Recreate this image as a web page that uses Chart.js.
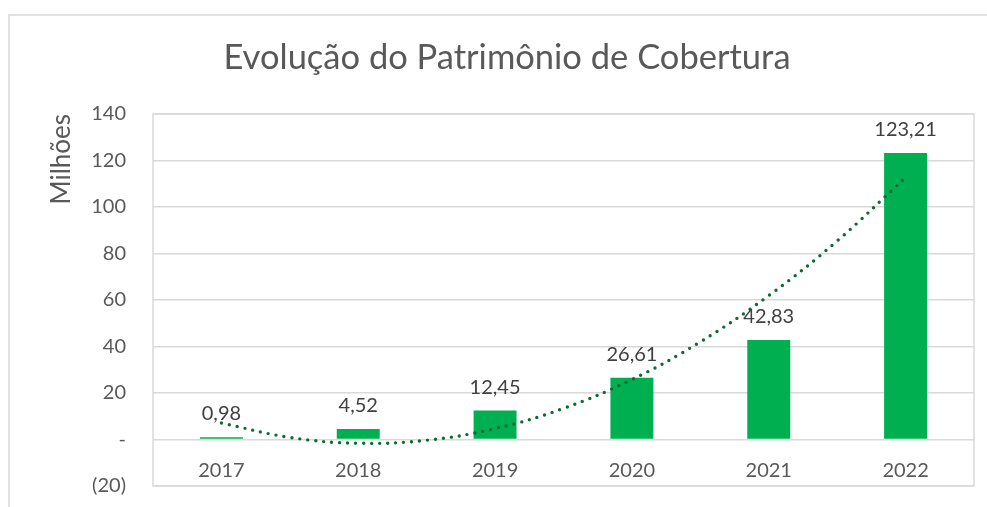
<!DOCTYPE html>
<html><head><meta charset="utf-8">
<script src="https://cdn.jsdelivr.net/npm/chart.js@4"></script>
<style>html,body{margin:0;padding:0;background:#fff;overflow:hidden}</style>
</head><body>
<canvas id="c" width="987" height="507"></canvas>
<script>
const categories = ['2017', '2018', '2019', '2020', '2021', '2022'];
const patrimonio = [0.98, 4.52, 12.45, 26.61, 42.83, 123.21];
// dotted trendline at half-category steps
const trendPositions = [0, 0.5, 1, 1.5, 2, 2.5, 3, 3.5, 4, 4.5, 5];
const trendValues = [7.1, 0.9, -1.6, -0.3, 4.7, 13.4, 25.8, 42.0, 61.9, 85.4, 112.8];
const yTickValues = [-20, 0, 20, 40, 60, 80, 100, 120, 140];
const yTickLabels = ['(20)', '-', '20', '40', '60', '80', '100', '120', '140'];
const titleText = 'Evolução do Patrimônio de Cobertura';
const yAxisTitle = 'Milhões';

const FONT = 'Lato';
const GREY = '#595959';
const GRID = '#d9d9d9';

const framePlugin = {
  id: 'frame',
  beforeDraw(chart) {
    const ctx = chart.ctx;
    ctx.save();
    ctx.fillStyle = '#fff';
    ctx.fillRect(0, 0, chart.width, chart.height);
    ctx.strokeStyle = GRID;
    ctx.lineWidth = 1.5;
    ctx.beginPath();
    ctx.moveTo(9, chart.height + 5);
    ctx.lineTo(9, 15);
    ctx.lineTo(chart.width + 5, 15);
    ctx.stroke();
    ctx.restore();
  },
  afterDraw(chart) {
    const a = chart.chartArea;
    const ctx = chart.ctx;
    ctx.save();
    ctx.strokeStyle = GRID;
    ctx.lineWidth = 1.5;
    ctx.strokeRect(a.left, a.top, a.right - a.left, a.bottom - a.top);
    ctx.restore();
  }
};

const labelPlugin = {
  id: 'barLabels',
  afterDatasetsDraw(chart) {
    const ctx = chart.ctx;
    const meta = chart.getDatasetMeta(0);
    ctx.save();
    ctx.font = '20px ' + FONT;
    ctx.fillStyle = '#404040';
    ctx.textAlign = 'center';
    ctx.textBaseline = 'alphabetic';
    meta.data.forEach((bar, i) => {
      const txt = patrimonio[i].toFixed(2).replace('.', ',');
      ctx.fillText(txt, bar.x, bar.y - 17);
    });
    ctx.restore();
  }
};

new Chart(document.getElementById('c'), {
  data: {
    labels: categories,
    datasets: [
      {
        type: 'bar',
        data: patrimonio,
        backgroundColor: '#00b050',
        barPercentage: 0.314,
        categoryPercentage: 1,
        grouped: false,
        order: 2,
        xAxisID: 'x',
        yAxisID: 'y'
      },
      {
        type: 'line',
        data: trendPositions.map((p, i) => ({ x: p, y: trendValues[i] })),
        borderColor: '#0d6a32',
        borderWidth: 3.4,
        borderDash: [0, 8],
        borderCapStyle: 'round',
        pointRadius: 0,
        tension: 0.4,
        fill: false,
        order: 1,
        xAxisID: 'x2',
        yAxisID: 'y'
      }
    ]
  },
  options: {
    responsive: false,
    animation: false,
    devicePixelRatio: 1,
    layout: { padding: { left: 40, right: 13, top: 0, bottom: 21 } },
    plugins: {
      legend: { display: false },
      tooltip: { enabled: false },
      title: {
        display: true,
        text: titleText,
        color: GREY,
        font: { family: FONT, size: 34.5, weight: 'normal' },
        padding: { top: 37, bottom: 35.6 }
      }
    },
    scales: {
      x: {
        type: 'category',
        position: { y: 0 },
        offset: true,
        grid: { display: false, drawTicks: false },
        border: { display: false },
        ticks: { color: GREY, font: { family: FONT, size: 20 }, padding: 19 }
      },
      x2: {
        type: 'linear',
        display: false,
        min: -0.5,
        max: 5.5
      },
      y: {
        type: 'linear',
        position: 'left',
        min: -20,
        max: 140,
        grid: { color: GRID, lineWidth: 1.5, drawTicks: false },
        border: { display: false },
        ticks: {
          stepSize: 20,
          color: GREY,
          padding: 27,
          font: { family: FONT, size: 20 },
          callback: (v) => {
            const i = yTickValues.indexOf(v);
            return i >= 0 ? yTickLabels[i] : '';
          }
        },
        title: {
          display: true,
          text: yAxisTitle,
          align: 'end',
          color: GREY,
          font: { family: FONT, size: 26 },
          padding: { top: 6, bottom: 0 }
        },
        afterFit(scale) {
          scale.width = 113;
          scale.paddingTop = 0;
          scale.paddingBottom = 0;
        }
      }
    }
  },
  plugins: [framePlugin, labelPlugin]
});
</script>
</body></html>
